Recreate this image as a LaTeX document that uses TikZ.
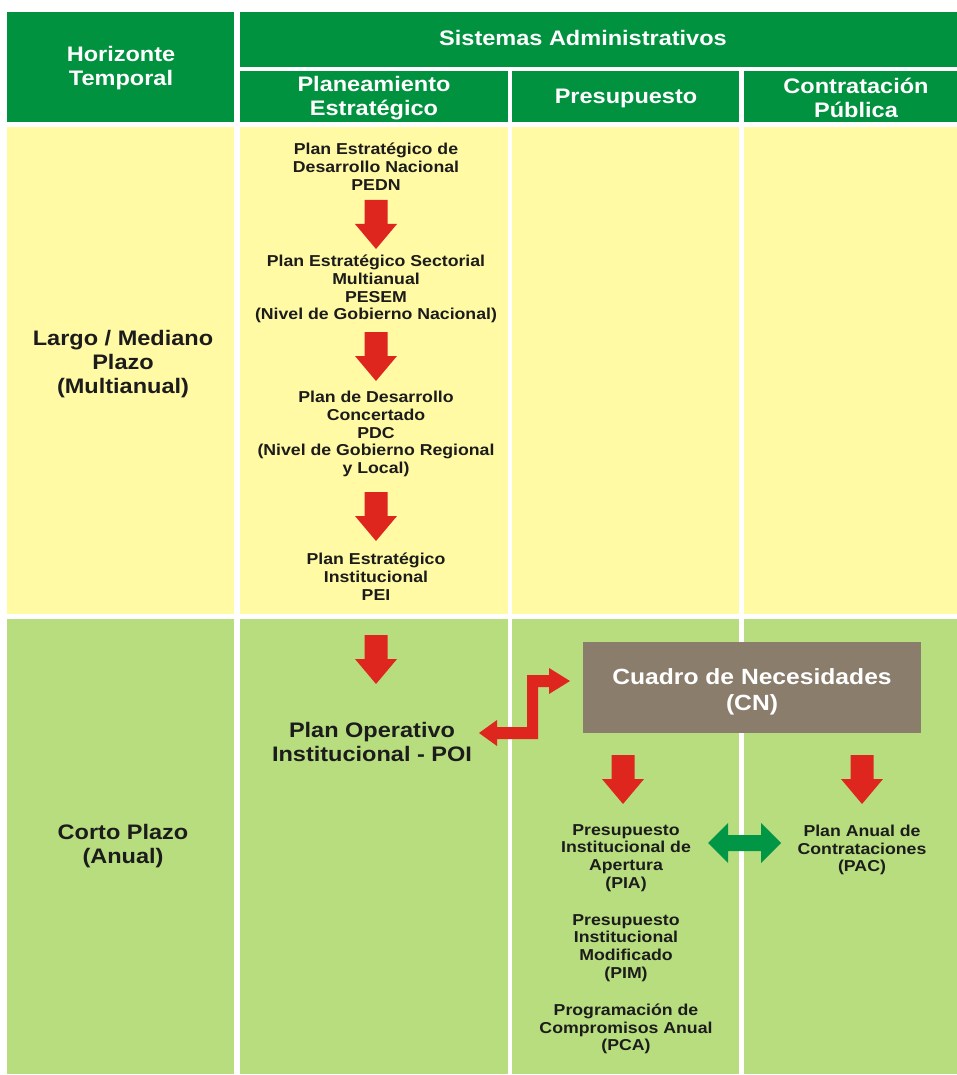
\documentclass[tikz,border=0pt]{standalone}
\usepackage{fontspec}
\setmainfont{Liberation Sans}[FakeStretch=1.12]
\definecolor{hdr}{RGB}{0,146,63}
\definecolor{yel}{RGB}{255,250,163}
\definecolor{lgr}{RGB}{183,221,126}
\definecolor{brn}{RGB}{139,125,108}
\definecolor{arrred}{RGB}{222,37,30}
\definecolor{arrgrn}{RGB}{0,150,70}
\definecolor{txt}{RGB}{28,28,28}
\begin{document}
\begin{tikzpicture}[x=1pt,y=-1pt,
  hdrtext/.style={text=white, font=\bfseries\fontsize{21}{24}\selectfont, align=center, inner sep=0},
  body/.style={text=txt, font=\bfseries\fontsize{15.8}{17.8}\selectfont, align=center, inner sep=0},
  big/.style={text=txt, font=\bfseries\fontsize{21}{24}\selectfont, align=center, inner sep=0},
  cntext/.style={text=white, font=\bfseries\fontsize{22}{26}\selectfont, align=center, inner sep=0},
  dnarrow/.pic={\fill[arrred] (-11.5,0) -- (11.5,0) -- (11.5,24) -- (21,24) -- (0,49) -- (-21,24) -- (-11.5,24) -- cycle;}
]
\useasboundingbox (0,0) rectangle (957,1075);
\fill[white] (0,0) rectangle (957,1075);
% header
\fill[hdr] (7,12) rectangle (234,122);
\fill[hdr] (240,12) rectangle (957,67);
\fill[hdr] (240,71) rectangle (508,122);
\fill[hdr] (512,71) rectangle (739,122);
\fill[hdr] (744,71) rectangle (957,122);
% long term row
\fill[yel] (7,127) rectangle (234,614);
\fill[yel] (240,127) rectangle (508,614);
\fill[yel] (512,127) rectangle (739,614);
\fill[yel] (744,127) rectangle (957,614);
% short term row
\fill[lgr] (7,619) rectangle (234,1074);
\fill[lgr] (240,619) rectangle (508,1074);
\fill[lgr] (512,619) rectangle (739,1074);
\fill[lgr] (744,619) rectangle (957,1074);

% header texts
\node[hdrtext] (hz) at (121,68) {Horizonte\\Temporal};
\node[hdrtext] (sa) at (583,38) {Sistemas Administrativos};
\node[hdrtext] (pe) at (374,98) {Planeamiento\\Estratégico};
\node[hdrtext] (pr) at (626,98) {Presupuesto};
\node[hdrtext] (cp) at (856,98) {Contratación\\Pública};

% row labels
\node[big] (lmp) at (123,364) {Largo / Mediano\\Plazo\\(Multianual)};
\node[big] (cpa) at (123,846) {Corto Plazo\\(Anual)};

% planning chain
\node[body] (pedn) at (376,167) {Plan Estratégico de\\Desarrollo Nacional\\PEDN};
\node[body] (pesem) at (376,289) {Plan Estratégico Sectorial\\Multianual\\PESEM\\(Nivel de Gobierno Nacional)};
\node[body] (pdc) at (376,434) {Plan de Desarrollo\\Concertado\\PDC\\(Nivel de Gobierno Regional\\y Local)};
\node[body] (pei) at (376,577) {Plan Estratégico\\Institucional\\PEI};
\pic at (376,200) {dnarrow};
\pic at (376,332) {dnarrow};
\pic at (376,492) {dnarrow};
\pic at (376,635) {dnarrow};

\node[big] (poi) at (372,742) {Plan Operativo\\Institucional - POI};

% Cuadro de Necesidades
\fill[brn] (583,642) rectangle (921,733);
\node[cntext] (cn) at (752,692) {Cuadro de Necesidades\\(CN)};

% zig-zag arrow between POI and CN
\fill[arrred] (479,733) -- (497,720) -- (497,727) -- (527,727) -- (527,675) -- (549,675) -- (549,668) -- (570,681) -- (549,694) -- (549,687) -- (538,687) -- (538,739) -- (497,739) -- (497,746) -- cycle;

\pic at (623,755) {dnarrow};
\pic at (862,755) {dnarrow};

\node[body] (pia) at (626,858) {Presupuesto\\Institucional de\\Apertura\\(PIA)};
\node[body] (pim) at (626,948) {Presupuesto\\Institucional\\Modificado\\(PIM)};
\node[body] (pca) at (626,1029) {Programación de\\Compromisos Anual\\(PCA)};
\node[body] (pac) at (862,850) {Plan Anual de\\Contrataciones\\(PAC)};

% double arrow PIA <-> PAC
\fill[arrgrn] (708,843) -- (728,823) -- (728,835) -- (761,835) -- (761,823) -- (781,843) -- (761,863) -- (761,851) -- (728,851) -- (728,863) -- cycle;
\end{tikzpicture}
\end{document}
